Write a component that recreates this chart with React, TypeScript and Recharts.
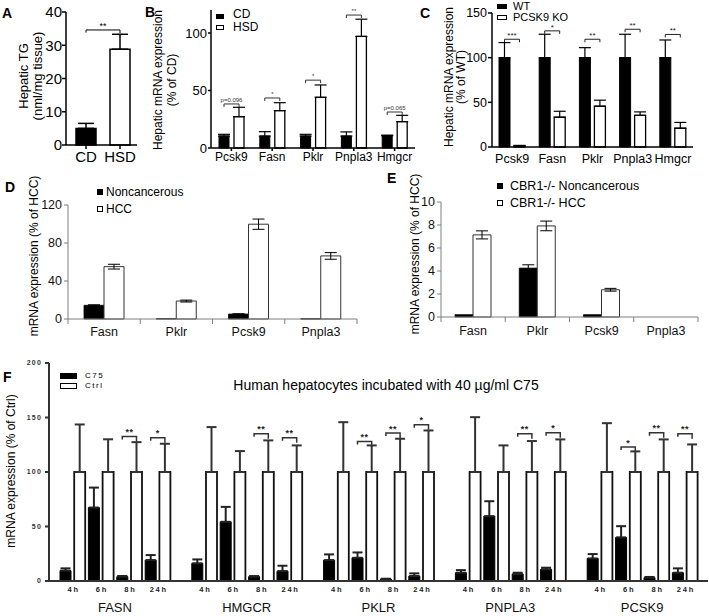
import React from 'react';
import { BarChart, Bar, XAxis, YAxis, ErrorBar, LabelList, Cell, ReferenceLine } from 'recharts';

const FONT = '"Liberation Sans", Arial, Helvetica, sans-serif';

// ===== Panel A: Hepatic TG
const aCats = ['CD', 'HSD'];
const aMeans = [5.0, 28.8];
const aErrs = [1.5, 4.5];
const aTicks = [0, 10, 20, 30, 40];
const aSigY = 34.6;
const aSigText = '**';

// ===== Panel B: HSD vs CD
const bCats = ['Pcsk9', 'Fasn', 'Pklr', 'Pnpla3', 'Hmgcr'];
const bCD = [10.4, 10.4, 10.4, 10.4, 10.7];
const bCDErr = [1.5, 3.8, 1.5, 3.6, 0.5];
const bHSD = [27.2, 32.5, 44.1, 97.0, 22.9];
const bHSDErr = [8.2, 6.9, 10.7, 15.0, 5.5];
const bSigY = [38.3, 43.5, 59.0, 115.6, 31.3];
const bSigText = ['p=0.096', '*', '*', '**', 'p=0.065'];
const bTicks = [0, 50, 100];

// ===== Panel C: WT vs PCSK9 KO
const cCats = ['Pcsk9', 'Fasn', 'Pklr', 'Pnpla3', 'Hmgcr'];
const cWT = [100, 100, 100, 100, 100];
const cWTErr = [16.9, 26.2, 11.2, 26.2, 19.8];
const cKO = [1.2, 33.3, 45.6, 35.5, 21.0];
const cKOErr = [0.6, 6.7, 6.8, 3.8, 6.5];
const cSigY = [120.6, 130.0, 120.6, 131.8, 126.0];
const cSigText = ['***', '*', '**', '**', '**'];
const cTicks = [0, 50, 100, 150];

// ===== Panel D: Noncancerous vs HCC
const dCats = ['Fasn', 'Pklr', 'Pcsk9', 'Pnpla3'];
const dNon = [14.4, 0.3, 5.2, 0.2];
const dNonErr: (number | null)[] = [0.6, null, 0.3, null];
const dHCC = [55.1, 18.9, 99.8, 66.4];
const dHCCErr = [2.5, 1.0, 5.4, 3.5];
const dTicks = [0, 20, 40, 60, 80, 100, 120];

// ===== Panel E: CBR1-/- Noncancerous vs HCC
const eCats = ['Fasn', 'Pklr', 'Pcsk9', 'Pnpla3'];
const eNon = [0.2, 4.25, 0.2, 0];
const eNonErr: (number | null)[] = [null, 0.29, null, null];
const eHCC = [7.14, 7.92, 2.37, 0];
const eHCCErr: (number | null)[] = [0.35, 0.42, 0.12, null];
const eTicks = [0, 2, 4, 6, 8, 10];

// ===== Panel F: human hepatocytes, C75 vs Ctrl
const fGenes = ['FASN', 'HMGCR', 'PKLR', 'PNPLA3', 'PCSK9'];
const fTimes = ['4h', '6h', '8h', '24h'];
const fC75 = [
  [9.5, 67.4, 4.0, 19.2],
  [16.2, 54.3, 4.0, 9.1],
  [19.2, 21.3, 1.8, 4.6],
  [7.6, 59.5, 6.4, 10.7],
  [20.7, 40.0, 3.0, 7.6],
];
const fC75Err = [
  [2.1, 18.3, 0.6, 4.6],
  [3.6, 13.7, 0.5, 4.9],
  [5.2, 4.9, 0.3, 2.4],
  [2.4, 13.7, 1.2, 1.5],
  [4.0, 10.3, 0.7, 4.0],
];
const fCtrl = [
  [100, 100, 100, 100],
  [100, 100, 100, 100],
  [100, 100, 100, 100],
  [100, 100, 100, 100],
  [100, 100, 100, 100],
];
const fCtrlErr = [
  [43.6, 30.0, 27.4, 25.9],
  [41.2, 19.2, 29.0, 24.4],
  [45.7, 24.4, 30.5, 38.1],
  [50.3, 24.4, 28.4, 29.9],
  [44.8, 18.9, 29.9, 25.3],
];
const fSigY: (number | null)[][] = [
  [null, null, 132.6, 131.4],
  [null, null, 135.0, 131.4],
  [null, 128.0, 135.7, 143.3],
  [null, null, 135.0, 136.0],
  [null, 122.9, 136.0, 135.0],
];
const fSigText = [
  ['', '', '**', '*'],
  ['', '', '**', '**'],
  ['', '**', '**', '*'],
  ['', '', '**', '*'],
  ['', '*', '**', '**'],
];
const fTicks = [0, 50, 100, 150, 200];

// ---------- tables built from the arrays
const aData = aCats.map((c, i) => ({ cat: c, v: aMeans[i], e: [0, aErrs[i]] }));
const bData = bCats.map((c, i) => ({ cat: c, cd: bCD[i], cdE: [0, bCDErr[i]], hsd: bHSD[i], hsdE: [0, bHSDErr[i]] }));
const cData = cCats.map((c, i) => ({ cat: c, wt: cWT[i], wtE: [0, cWTErr[i]], ko: cKO[i], koE: [0, cKOErr[i]] }));
const dData = dCats.map((c, i) => ({ cat: c, non: dNon[i], nonE: dNonErr[i], hcc: dHCC[i], hccE: dHCCErr[i] }));
const eData = eCats.map((c, i) => ({ cat: c, non: eNon[i], nonE: eNonErr[i], hcc: eHCC[i], hccE: eHCCErr[i] }));
const fData = fGenes.map((g, gi) => {
  const row: any = { gene: g };
  fTimes.forEach((_, t) => {
    row[`c${t}`] = fC75[gi][t];
    row[`ce${t}`] = [0, fC75Err[gi][t]];
    row[`k${t}`] = fCtrl[gi][t];
    row[`ke${t}`] = [0, fCtrlErr[gi][t]];
  });
  return row;
});

// ---------- helpers
type BrOpts = { dir: number; dist: number; lDrop: number; rDrop: number; fs: number; stroke: string; sw: number; color: string; textGap: number; bold?: boolean; ls?: number };

function getBox(props: any) {
  const vb = props.viewBox && typeof props.viewBox.width === 'number' ? props.viewBox : props;
  return { x: Number(vb.x), y: Number(vb.y), w: Number(vb.width), h: Number(vb.height) };
}

function makeBracket(vals: number[], sigY: (number | null)[], sigText: string[], o: BrOpts) {
  return (props: any) => {
    const idx: number = props.index;
    const { x, y, w, h } = getBox(props);
    const val = vals[idx];
    const s = sigY[idx];
    if (s == null || !val || !isFinite(x) || !isFinite(y) || !isFinite(h) || h === 0) return null;
    const top = Math.min(y, y + h);
    const base = Math.max(y, y + h);
    const ppu = (base - top) / val;
    const by = base - s * ppu;
    const c1 = x + w / 2;
    const c2 = c1 + o.dir * o.dist;
    const xl = Math.min(c1, c2);
    const xr = Math.max(c1, c2);
    return (
      <g>
        <path d={`M${xl},${by + o.lDrop}V${by}H${xr}V${by + o.rDrop}`} fill="none" stroke={o.stroke} strokeWidth={o.sw} />
        <text x={(xl + xr) / 2} y={by - o.textGap} textAnchor="middle" fontSize={o.fs} fill={o.color} fontWeight={o.bold ? 'bold' : 'normal'} letterSpacing={o.ls || 0}>
          {sigText[idx]}
        </text>
      </g>
    );
  };
}

const makeBoundaryTick = (band: number, n: number, stroke: string, fs: number, dyText: number) => (p: any) => {
  const x = Number(p.x);
  const y = Number(p.y);
  const i = p.index;
  return (
    <g>
      <line x1={x - band / 2} x2={x - band / 2} y1={y} y2={y + 5} stroke={stroke} strokeWidth={1} />
      {i === n - 1 ? <line x1={x + band / 2} x2={x + band / 2} y1={y} y2={y + 5} stroke={stroke} strokeWidth={1} /> : null}
      <text x={x} y={y + dyText} textAnchor="middle" fontSize={fs} fill="#111">{p.payload.value}</text>
    </g>
  );
};

const Txt = ({ x, y, size = 12, bold = false, center = false, children, style = {} }: any) => (
  <div
    style={{
      position: 'absolute', left: x, top: y, fontSize: size, fontWeight: bold ? 'bold' : 'normal', lineHeight: 1,
      whiteSpace: 'nowrap', transform: center ? 'translate(-50%,-50%)' : 'translateY(-50%)', color: '#000', ...style,
    }}
  >
    {children}
  </div>
);

const VTxt = ({ x, y, size = 12, lh = 1.15, children }: any) => (
  <div
    style={{
      position: 'absolute', left: x, top: y, fontSize: size, lineHeight: lh, textAlign: 'center', whiteSpace: 'nowrap',
      transform: 'translate(-50%,-50%) rotate(-90deg)', color: '#000',
    }}
  >
    {children}
  </div>
);

const Swatch = ({ x, y, w, h, filled, border = 1 }: any) => (
  <div
    style={{
      position: 'absolute', left: x, top: y, width: w, height: h, boxSizing: 'border-box',
      background: filled ? '#000' : '#fff', border: `${border}px solid #000`,
    }}
  />
);

const Box = ({ left, top, children }: any) => <div style={{ position: 'absolute', left, top }}>{children}</div>;

// ---------- layout constants
const F_BAR = 11;
const F_GAP = 3.2;
const D_BAND = (357 - 68) / 4;
const E_BAND = (698 - 441) / 4;

const blackAxis = { stroke: '#000', strokeWidth: 1.5 };
const grayAxis = { stroke: '#7f7f7f', strokeWidth: 1 };
const fAxis = { stroke: '#333', strokeWidth: 2 };

const timeLabel = (t: number) => (props: any) => {
  const { x, y, h } = getBox(props);
  if (!isFinite(x)) return null;
  const base = Math.max(y, y + h);
  return (
    <text x={x - F_GAP / 2 + 1} y={base + 11} textAnchor="middle" fontSize={7.5} fontWeight="bold" letterSpacing={1.8} fill="#222">
      {fTimes[t]}
    </text>
  );
};

const geneTick = (p: any) => (
  <text x={Number(p.x)} y={Number(p.y) + 31} textAnchor="middle" fontSize={13} fill="#111">{p.payload.value}</text>
);

export default function App() {
  return (
    <div style={{ position: 'absolute', left: 0, top: 0, width: 709, height: 616, overflow: 'hidden', background: '#fff', fontFamily: FONT }}>
      {/* ================= A ================= */}
      <Box left={0} top={0}>
        <BarChart width={145} height={165} data={aData} margin={{ top: 12, right: 8, left: 0, bottom: 0 }}>
          <XAxis dataKey="cat" height={20} interval={0} padding={{ left: 3, right: 0 }} axisLine={blackAxis} tickLine={blackAxis} tickSize={4} tickMargin={2} tick={{ fontSize: 15, fill: '#000' }} />
          <YAxis width={66} domain={[0, 40]} ticks={aTicks} axisLine={blackAxis} tickLine={blackAxis} tickSize={4} tickMargin={0} tick={{ fontSize: 15, fill: '#000' }} />
          <Bar dataKey="v" barSize={20} stroke="#000" strokeWidth={1.5} isAnimationActive={false}>
            {aData.map((d, i) => (
              <Cell key={d.cat} fill={i === 0 ? '#000' : '#fff'} />
            ))}
            <ErrorBar dataKey="e" width={8} stroke="#000" strokeWidth={1.5} direction="y" />
          </Bar>
          <ReferenceLine segment={[{ x: 'CD', y: aSigY }, { x: 'HSD', y: aSigY }]} stroke="#000" strokeWidth={1} ifOverflow="visible"
            label={{ value: aSigText, position: 'top', offset: 1, fontSize: 9, fill: '#000' }} />
          <ReferenceLine segment={[{ x: 'CD', y: aSigY - 0.8 }, { x: 'CD', y: aSigY }]} stroke="#000" strokeWidth={1} ifOverflow="visible" />
          <ReferenceLine segment={[{ x: 'HSD', y: aSigY - 1.0 }, { x: 'HSD', y: aSigY }]} stroke="#000" strokeWidth={1} ifOverflow="visible" />
        </BarChart>
      </Box>

      {/* ================= B ================= */}
      <Box left={140} top={0}>
        <BarChart width={280} height={172} data={bData} margin={{ top: 10, right: 5, left: 0, bottom: 0 }} barGap={5}>
          <XAxis dataKey="cat" height={24} interval={0} axisLine={blackAxis} tickLine={blackAxis} tickSize={3} tickMargin={1} tick={{ fontSize: 12, fill: '#000' }} />
          <YAxis width={71} domain={[0, 120]} ticks={bTicks} axisLine={blackAxis} tickLine={blackAxis} tickSize={3} tickMargin={1} tick={{ fontSize: 13, fill: '#000' }} />
          <Bar dataKey="cd" barSize={10} fill="#000" stroke="#000" strokeWidth={1} isAnimationActive={false}>
            <ErrorBar dataKey="cdE" width={6} stroke="#000" strokeWidth={1.2} direction="y" />
          </Bar>
          <Bar dataKey="hsd" barSize={10} fill="#fff" stroke="#000" strokeWidth={1.3} isAnimationActive={false}>
            <ErrorBar dataKey="hsdE" width={6} stroke="#000" strokeWidth={1.2} direction="y" />
            <LabelList dataKey="hsd" content={makeBracket(bHSD, bSigY, bSigText, { dir: -1, dist: 15, lDrop: 3, rDrop: 3, fs: 6, stroke: '#333', sw: 1, color: '#333', textGap: 2 })} />
          </Bar>
        </BarChart>
      </Box>

      {/* ================= C ================= */}
      <Box left={420} top={0}>
        <BarChart width={289} height={172} data={cData} margin={{ top: 13, right: 16, left: 0, bottom: 0 }} barGap={4}>
          <XAxis dataKey="cat" height={25} interval={0} axisLine={blackAxis} tickLine={false} tickSize={4} tickMargin={3} tick={{ fontSize: 12.5, fill: '#000' }} />
          <YAxis width={72} domain={[0, 150]} ticks={cTicks} axisLine={blackAxis} tickLine={blackAxis} tickSize={4} tickMargin={1} tick={{ fontSize: 12.5, fill: '#000' }} />
          <Bar dataKey="wt" barSize={11} fill="#000" stroke="#000" strokeWidth={1} isAnimationActive={false}>
            <ErrorBar dataKey="wtE" width={6} stroke="#000" strokeWidth={1.2} direction="y" />
            <LabelList dataKey="wt" content={makeBracket(cWT, cSigY, cSigText, { dir: 1, dist: 15, lDrop: 3, rDrop: 3, fs: 8, stroke: '#222', sw: 1, color: '#222', textGap: 1 })} />
          </Bar>
          <Bar dataKey="ko" barSize={11} fill="#fff" stroke="#000" strokeWidth={1.3} isAnimationActive={false}>
            <ErrorBar dataKey="koE" width={6} stroke="#000" strokeWidth={1.2} direction="y" />
          </Bar>
        </BarChart>
      </Box>

      {/* ================= D ================= */}
      <Box left={0} top={180}>
        <BarChart width={362} height={165} data={dData} margin={{ top: 25, right: 5, left: 0, bottom: 0 }} barGap={0}>
          <XAxis dataKey="cat" height={26} interval={0} axisLine={grayAxis} tickLine={false} tickSize={0} tickMargin={0}
            tick={makeBoundaryTick(D_BAND, dCats.length, '#7f7f7f', 12.5, 17)} />
          <YAxis width={68} domain={[0, 120]} ticks={dTicks} axisLine={grayAxis} tickLine={grayAxis} tickSize={4} tickMargin={2} tick={{ fontSize: 12.5, fill: '#111' }} />
          <Bar dataKey="non" barSize={20} fill="#000" stroke="#000" strokeWidth={0.8} isAnimationActive={false}>
            <ErrorBar dataKey="nonE" width={6} stroke="#000" strokeWidth={1} direction="y" />
          </Bar>
          <Bar dataKey="hcc" barSize={20} fill="#fff" stroke="#333" strokeWidth={1} isAnimationActive={false}>
            <ErrorBar dataKey="hccE" width={6} stroke="#000" strokeWidth={1} direction="y" />
          </Bar>
        </BarChart>
      </Box>

      {/* ================= E ================= */}
      <Box left={370} top={180}>
        <BarChart width={335} height={165} data={eData} margin={{ top: 22, right: 7, left: 0, bottom: 0 }} barGap={0}>
          <XAxis dataKey="cat" height={28} interval={0} axisLine={grayAxis} tickLine={false} tickSize={0} tickMargin={0}
            tick={makeBoundaryTick(E_BAND, eCats.length, '#7f7f7f', 12.5, 18)} />
          <YAxis width={71} domain={[0, 10]} ticks={eTicks} axisLine={grayAxis} tickLine={grayAxis} tickSize={4} tickMargin={2} tick={{ fontSize: 12.5, fill: '#111' }} />
          <Bar dataKey="non" barSize={18} fill="#000" stroke="#000" strokeWidth={0.8} isAnimationActive={false}>
            <ErrorBar dataKey="nonE" width={6} stroke="#000" strokeWidth={1} direction="y" />
          </Bar>
          <Bar dataKey="hcc" barSize={18} fill="#fff" stroke="#333" strokeWidth={1} isAnimationActive={false}>
            <ErrorBar dataKey="hccE" width={6} stroke="#000" strokeWidth={1} direction="y" />
          </Bar>
        </BarChart>
      </Box>

      {/* ================= F ================= */}
      <Box left={0} top={350}>
        <BarChart width={709} height={266} data={fData} margin={{ top: 13, right: 1, left: 0, bottom: 0 }} barGap={F_GAP}>
          <XAxis dataKey="gene" height={35} interval={0} axisLine={fAxis} tickLine={false} tickSize={0} tickMargin={0} tick={geneTick} />
          <YAxis width={49} domain={[0, 200]} ticks={fTicks} axisLine={fAxis} tickLine={fAxis} tickSize={4} tickMargin={3}
            tick={{ fontSize: 7, fontWeight: 'bold', fill: '#333', letterSpacing: 1.2 }} />
          {fTimes.flatMap((_, t) => [
            <Bar key={`c${t}`} dataKey={`c${t}`} barSize={F_BAR} fill="#000" stroke="#000" strokeWidth={1} isAnimationActive={false}>
              <ErrorBar dataKey={`ce${t}`} width={5} stroke="#222" strokeWidth={2} direction="y" />
            </Bar>,
            <Bar key={`k${t}`} dataKey={`k${t}`} barSize={F_BAR} fill="#fff" stroke="#111" strokeWidth={1.8} isAnimationActive={false}>
              <ErrorBar dataKey={`ke${t}`} width={5} stroke="#333" strokeWidth={2} direction="y" />
              <LabelList dataKey={`k${t}`} content={timeLabel(t)} />
              <LabelList dataKey={`k${t}`} content={makeBracket(fGenes.map((_, g) => fCtrl[g][t]), fGenes.map((_, g) => fSigY[g][t]), fGenes.map((_, g) => fSigText[g][t]),
                { dir: -1, dist: F_BAR + F_GAP, lDrop: 3, rDrop: 5, fs: 9, stroke: '#333', sw: 1.5, color: '#222', textGap: 1.5, bold: true, ls: 0.5 })} />
            </Bar>,
          ])}
        </BarChart>
      </Box>

      {/* ================= overlay texts ================= */}
      <Txt x={2} y={13} size={14} bold>A</Txt>
      <Txt x={145} y={12} size={14} bold>B</Txt>
      <Txt x={420} y={13} size={14} bold>C</Txt>
      <Txt x={5} y={187} size={14} bold>D</Txt>
      <Txt x={387} y={178} size={14} bold>E</Txt>
      <Txt x={3} y={377} size={14} bold>F</Txt>

      <VTxt x={31} y={76} size={13} lh={1.05}>Hepatic TG<br />(nml/mg tissue)</VTxt>
      <VTxt x={165} y={80} size={12} lh={1.17}>Hepatic mRNA expression<br />(% of CD)</VTxt>
      <VTxt x={455} y={77} size={12} lh={1.0}>Hepatic mRNA expression<br />(% of WT)</VTxt>
      <VTxt x={35} y={256} size={12}>mRNA expression (% of HCC)</VTxt>
      <VTxt x={416} y={254} size={12}>mRNA expression (% of HCC)</VTxt>
      <VTxt x={12} y={471} size={12}>mRNA expression (% of Ctrl)</VTxt>

      {/* legend B */}
      <Swatch x={216} y={14} w={8} h={5} filled />
      <Txt x={233} y={14} size={12}>CD</Txt>
      <Swatch x={216} y={25} w={8} h={5} />
      <Txt x={233} y={27} size={12}>HSD</Txt>

      {/* legend C */}
      <Swatch x={497} y={4} w={10} h={5} filled />
      <Txt x={513} y={6} size={11}>WT</Txt>
      <Swatch x={497} y={15} w={10} h={5} />
      <Txt x={513} y={17} size={11}>PCSK9 KO</Txt>

      {/* legend D */}
      <Swatch x={97} y={189} w={6} h={6} filled />
      <Txt x={106} y={192} size={12}>Noncancerous</Txt>
      <Swatch x={97} y={206} w={6} h={6} />
      <Txt x={106} y={209} size={12}>HCC</Txt>

      {/* legend E */}
      <Swatch x={497} y={183} w={6} h={6} filled />
      <Txt x={510} y={186} size={12.5}>CBR1-/- Noncancerous</Txt>
      <Swatch x={497} y={200} w={6} h={6} />
      <Txt x={510} y={203} size={12.5}>CBR1-/- HCC</Txt>

      {/* legend F + title */}
      <Swatch x={60} y={373} w={17} h={6} filled />
      <Txt x={85} y={376} size={8} style={{ letterSpacing: 1.5 }}>C75</Txt>
      <Swatch x={60} y={383} w={17} h={6} border={1.3} />
      <Txt x={85} y={386} size={8} style={{ letterSpacing: 1.5 }}>Ctrl</Txt>
      <Txt x={386} y={385} size={14} center>Human hepatocytes incubated with 40 µg/ml C75</Txt>
    </div>
  );
}
